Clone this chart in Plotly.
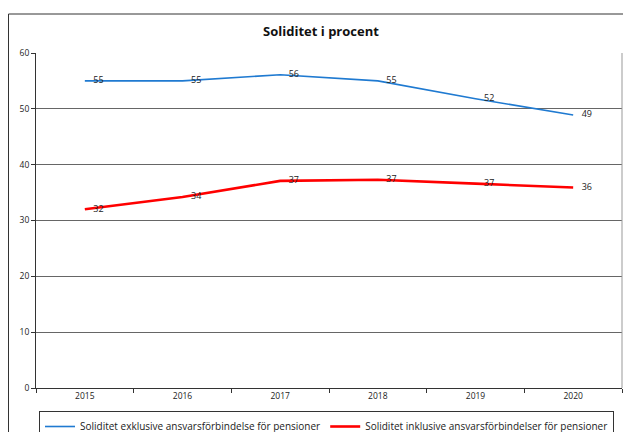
import plotly.graph_objects as go

years = ["2015", "2016", "2017", "2018", "2019", "2020"]
excl = [55.0, 55.0, 56.1, 55.0, 51.8, 48.9]
incl = [32.0, 34.2, 37.1, 37.3, 36.6, 35.9]
excl_labels = ["55", "55", "56", "55", "52", "49"]
incl_labels = ["32", "34", "37", "37", "37", "36"]
name_excl = "Soliditet exklusive ansvarsförbindelse för pensioner"
name_incl = "Soliditet inklusive ansvarsförbindelser för pensioner"

# page has an 8px body margin; figure coords = screenshot coords - 8
W, H = 623, 424
L, R, T, B = 28, 9, 45, 44
pw = W - L - R
ph = H - T - B

clear = "rgba(0,0,0,0)"

fig = go.Figure()
fig.add_trace(go.Scatter(x=years, y=excl, mode="lines+markers+text", name=name_excl,
                         line=dict(color="#1f7ad1", width=1.6),
                         marker=dict(size=12, color=clear, line=dict(width=0, color=clear)),
                         text=excl_labels, textposition="middle right",
                         textfont=dict(size=9, color="#222")))
fig.add_trace(go.Scatter(x=years, y=incl, mode="lines+markers+text", name=name_incl,
                         line=dict(color="#ff0000", width=2.6),
                         marker=dict(size=12, color=clear, line=dict(width=0, color=clear)),
                         text=incl_labels, textposition="middle right",
                         textfont=dict(size=9, color="#222")))

fig.update_layout(
    width=W, height=H,
    margin=dict(l=L, r=R, t=T, b=B, autoexpand=False),
    paper_bgcolor="white", plot_bgcolor="white",
    font=dict(family="Open Sans, DejaVu Sans, sans-serif", size=9, color="#222"),
    title=dict(text="<b>Soliditet i procent</b>", x=313 / W, xanchor="center",
               xref="container", y=1 - 23 / H, yanchor="middle", yref="container",
               font=dict(size=13, color="#111")),
    showlegend=True,
    legend=dict(orientation="h", x=(31 - L) / pw, xanchor="left",
                y=(380 - 403) / ph, yanchor="top",
                bordercolor="#333", borderwidth=1, bgcolor="white",
                font=dict(size=10), itemwidth=30, tracegroupgap=0),
    xaxis=dict(type="category", range=[-0.5, 5.5], tickson="boundaries",
               ticks="outside", ticklen=4, tickcolor="#333",
               showline=True, linecolor="#333", linewidth=1,
               showgrid=False, tickfont=dict(size=8.5)),
    yaxis=dict(range=[0, 60], dtick=10, ticks="outside", ticklen=4,
               tickcolor="#333", showline=True, linecolor="#333", linewidth=1,
               showgrid=True, gridcolor="#666", gridwidth=1,
               zeroline=False, tickfont=dict(size=8.5)),
)

# plot area frame (right side)
fig.add_shape(type="line", xref="paper", yref="paper", x0=1, x1=1, y0=0, y1=1,
              line=dict(color="#999", width=1))
# outer chart border
fig.add_shape(type="rect", xref="paper", yref="paper",
              x0=(0.5 - L) / pw, x1=2, y0=-2, y1=(380 - 6) / ph,
              line=dict(color="#333", width=1), layer="below")

fig.write_html("out.html")
